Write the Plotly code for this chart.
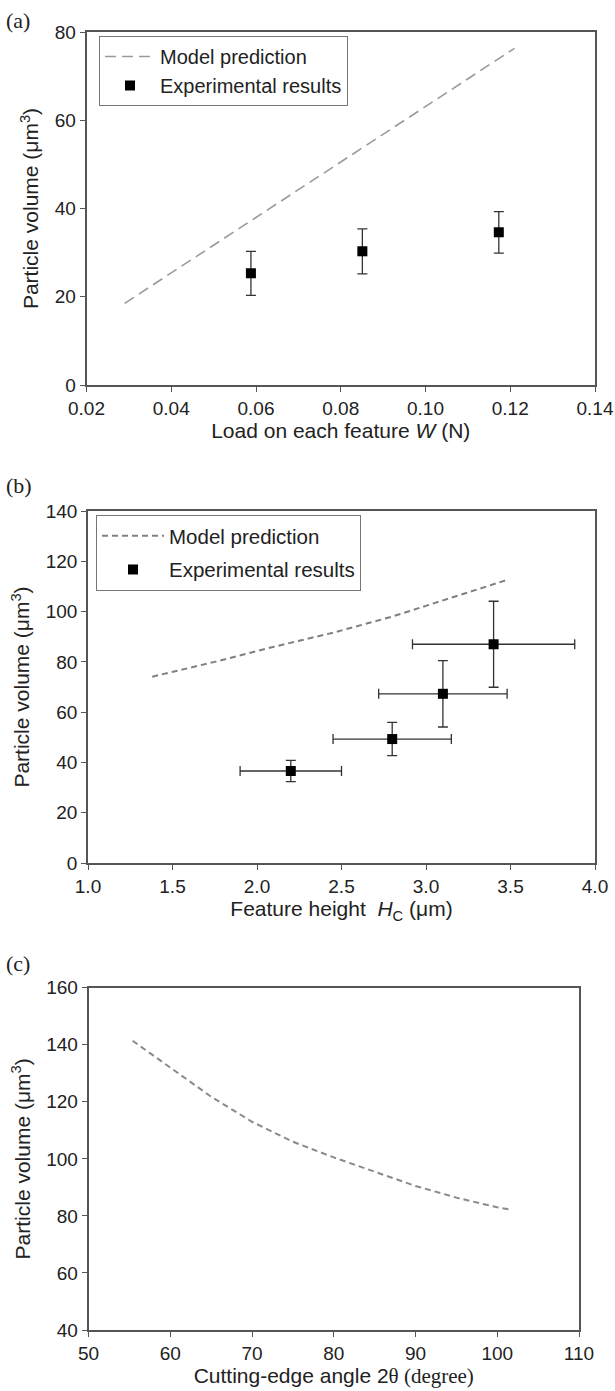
import plotly.graph_objects as go

# ---------- data ----------
# (a) load vs particle volume
a_model_x = [0.029, 0.121]
a_model_y = [18.5, 76.3]
a_exp_x = [0.0588, 0.0851, 0.1173]
a_exp_y = [25.3, 30.3, 34.6]
a_exp_err = [5.0, 5.1, 4.7]
a_xticks = [0.02, 0.04, 0.06, 0.08, 0.10, 0.12, 0.14]
a_yticks = [0, 20, 40, 60, 80]

# (b) feature height vs particle volume
b_model_x = [1.38, 1.75, 2.1, 2.45, 2.8, 3.15, 3.48]
b_model_y = [74.1, 80.0, 86.0, 91.6, 98.0, 105.6, 112.6]
b_exp_x = [2.2, 2.8, 3.1, 3.4]
b_exp_y = [36.6, 49.3, 67.3, 87.0]
b_exp_yerr = [4.2, 6.6, 13.2, 17.1]
b_exp_xerr = [0.30, 0.35, 0.38, 0.48]
b_xticks = [1.0, 1.5, 2.0, 2.5, 3.0, 3.5, 4.0]
b_yticks = [0, 20, 40, 60, 80, 100, 120, 140]

# (c) cutting-edge angle vs particle volume
c_model_x = [55.4, 60, 65, 70, 75, 80, 85, 90, 95, 100, 101.5]
c_model_y = [141.4, 132.0, 121.8, 113.0, 106.0, 100.5, 95.4, 90.5, 86.4, 83.0, 82.3]
c_xticks = [50, 60, 70, 80, 90, 100, 110]
c_yticks = [40, 60, 80, 100, 120, 140, 160]

W, H = 615, 1391
SANS = "Liberation Sans, Arial, sans-serif"
SERIF = "Liberation Serif, Times New Roman, serif"
AXC = "#555555"

def px(x):
    return x / W

def py(y):
    return 1 - y / H

fig = go.Figure()

# ---- (a) ----
fig.add_trace(go.Scatter(x=a_model_x, y=a_model_y, mode="lines", name="Model prediction",
                         line=dict(color="#9a9a9a", width=1.6, dash="11px,6px"),
                         xaxis="x", yaxis="y", legend="legend", legendgroup="a1"))
fig.add_trace(go.Scatter(x=a_exp_x, y=a_exp_y, mode="markers", name="Experimental results",
                         marker=dict(symbol="square", size=10, color="black"),
                         error_y=dict(type="data", array=a_exp_err, color="#333333", thickness=1.3, width=5),
                         xaxis="x", yaxis="y", legend="legend", legendgroup="a2"))

# ---- (b) ----
fig.add_trace(go.Scatter(x=b_model_x, y=b_model_y, mode="lines", name="Model prediction",
                         line=dict(color="#808080", width=2, dash="6px,4px"),
                         xaxis="x2", yaxis="y2", legend="legend2", legendgroup="b1"))
fig.add_trace(go.Scatter(x=b_exp_x, y=b_exp_y, mode="markers", name="Experimental results",
                         marker=dict(symbol="square", size=10, color="black"),
                         error_y=dict(type="data", array=b_exp_yerr, color="#333333", thickness=1.3, width=5),
                         error_x=dict(type="data", array=b_exp_xerr, color="#333333", thickness=1.3, width=5),
                         xaxis="x2", yaxis="y2", legend="legend2", legendgroup="b2"))

# ---- (c) ----
fig.add_trace(go.Scatter(x=c_model_x, y=c_model_y, mode="lines", name="Model prediction",
                         line=dict(color="#8a8a8a", width=2, dash="6px,4px"),
                         xaxis="x3", yaxis="y3", showlegend=False))

def xax(domain, rng, ticks, fmt, anchor, title):
    return dict(domain=domain, range=rng, tickvals=ticks, tickformat=fmt, anchor=anchor,
                showline=True, linecolor=AXC, linewidth=1.5, mirror=True, automargin=False,
                ticks="outside", ticklen=5, tickcolor=AXC, tickwidth=1.2,
                showgrid=False, zeroline=False,
                tickfont=dict(family=SANS, size=19, color="#222"),
                title=dict(text=title, font=dict(family=SANS, size=21, color="#222"), standoff=6))

def yax(domain, rng, ticks, anchor, title):
    return dict(domain=domain, range=rng, tickvals=ticks, anchor=anchor,
                showline=True, linecolor=AXC, linewidth=1.5, mirror=True, automargin=False,
                ticks="outside", ticklen=5, tickcolor=AXC, tickwidth=1.2,
                showgrid=False, zeroline=False,
                tickfont=dict(family=SANS, size=19, color="#222"),
                title=dict(text=title, font=dict(family=SANS, size=21, color="#222"), standoff=10))

ytitle = "Particle volume (μm<sup>3</sup>)"

fig.update_layout(
    width=W, height=H,
    margin=dict(l=0, r=0, t=0, b=0),
    paper_bgcolor="white", plot_bgcolor="white",
    font=dict(family=SANS, color="#222"),
    xaxis=xax([px(86.5), px(595)], [0.02, 0.14], a_xticks, ".2f", "y",
              "Load on each feature <i>W</i> (N)"),
    yaxis=yax([py(385), py(32)], [0, 80], a_yticks, "x", ytitle),
    xaxis2=xax([px(88), px(595)], [1.0, 4.0], b_xticks, ".1f", "y2",
               "Feature height  <i>H</i><sub>C</sub> (μm)"),
    yaxis2=yax([py(863), py(511)], [0, 140], b_yticks, "x2", ytitle),
    xaxis3=xax([px(88.5), px(579)], [50, 110], c_xticks, "d", "y3",
               "Cutting-edge angle 2<span style=\"font-family:'Liberation Serif', serif\">θ (degree)</span>"),
    yaxis3=yax([py(1330), py(987.7)], [40, 160], c_yticks, "x3", ytitle),
    legend=dict(x=px(99), y=py(36), xanchor="left", yanchor="top",
                bordercolor="#777", borderwidth=1, bgcolor="white", itemwidth=50,
                font=dict(family=SANS, size=20, color="#222"), tracegroupgap=0),
    legend2=dict(x=px(96), y=py(515), xanchor="left", yanchor="top",
                 bordercolor="#777", borderwidth=1, bgcolor="white", itemwidth=62,
                 font=dict(family=SANS, size=20.5, color="#222"), tracegroupgap=4),
    annotations=[
        dict(text="(a)", x=px(4), y=py(20), xref="paper", yref="paper", xanchor="left", yanchor="middle",
             showarrow=False, font=dict(family=SERIF, size=22, color="#222")),
        dict(text="(b)", x=px(4), y=py(485), xref="paper", yref="paper", xanchor="left", yanchor="middle",
             showarrow=False, font=dict(family=SERIF, size=22, color="#222")),
        dict(text="(c)", x=px(4), y=py(963), xref="paper", yref="paper", xanchor="left", yanchor="middle",
             showarrow=False, font=dict(family=SERIF, size=22, color="#222")),
    ],
)

fig.write_html("out.html", config={"displayModeBar": False},
               post_script="document.body.style.margin='0';")
